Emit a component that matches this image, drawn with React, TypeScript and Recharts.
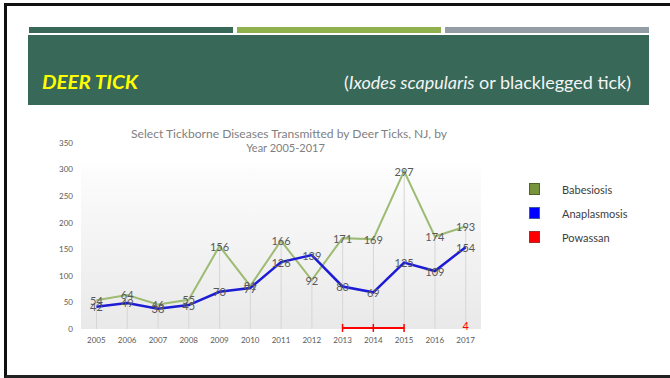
import { ComposedChart, Line, Bar, XAxis, YAxis, CartesianGrid, LabelList } from "recharts";

const years = ["2005", "2006", "2007", "2008", "2009", "2010", "2011", "2012", "2013", "2014", "2015", "2016", "2017"];
const babesiosis = [54, 64, 46, 55, 156, 81, 166, 92, 171, 169, 297, 174, 193];
const anaplasmosis = [42, 49, 38, 45, 70, 77, 126, 139, 80, 69, 125, 109, 154];
const powassan = [null, null, null, null, null, null, null, null, 2, 2, 2, null, 4];
const yTicks = [0, 50, 100, 150, 200, 250, 300, 350];

const legendItems = [
  { name: "Babesiosis", fill: "#77933c", stroke: "#4f6228" },
  { name: "Anaplasmosis", fill: "#0000ff", stroke: "#3a5a9a" },
  { name: "Powassan", fill: "#ff0000", stroke: "#a03030" },
];

const data = years.map((year, i) => ({
  year,
  babesiosis: babesiosis[i],
  anaplasmosis: anaplasmosis[i],
  powassan: powassan[i],
}));

const FONT = 'Lato, "Open Sans", sans-serif';

const hasNeighbour = (i: number) =>
  (i > 0 && powassan[i - 1] != null) || (i < powassan.length - 1 && powassan[i + 1] != null);

// centred value label sitting on the point
const pointLabel = (color: string) => (props: any) => {
  const { x, y, value } = props;
  if (value == null) return null;
  return (
    <text x={x} y={y} textAnchor="middle" dominantBaseline="central" fontSize={11} fontFamily={FONT} fill={color}>
      {value}
    </text>
  );
};

const powassanLabel = (props: any) => {
  const { x, y, value, index } = props;
  if (value == null || hasNeighbour(index)) return null;
  return (
    <text x={x} y={y - 1} textAnchor="middle" dominantBaseline="central" fontSize={11} fontFamily={FONT} fill="#ff0000">
      {value}
    </text>
  );
};

const powassanDot = (props: any) => {
  const { cx, cy, index } = props;
  if (cy == null || !hasNeighbour(index)) return <g key={`pd-${index}`} />;
  return <line key={`pd-${index}`} x1={cx} x2={cx} y1={cy - 4} y2={cy + 4} stroke="#ff0000" strokeWidth={1.5} />;
};

export default function App() {
  return (
    <div style={{ position: "absolute", left: 0, top: 0, width: 670, height: 378, background: "#fff", overflow: "hidden" }}>
      <div
        style={{
          position: "absolute",
          left: 4,
          top: 3,
          width: 700,
          height: 369,
          borderTop: "3px solid #111",
          borderLeft: "3px solid #111",
          borderBottom: "3px solid #222",
        }}
      />
      <div style={{ position: "absolute", left: 50, top: 120 }}>
        <ComposedChart width={440} height={235} data={data} margin={{ top: 23, right: 9, bottom: 6, left: 0 }}>
          <defs>
            <linearGradient id="plotBg" x1="0" y1="0" x2="0" y2="1">
              <stop offset="0.08" stopColor="#ffffff" stopOpacity={0} />
              <stop offset="0.15" stopColor="#fcfcfc" stopOpacity={1} />
              <stop offset="1" stopColor="#e9e9e9" stopOpacity={1} />
            </linearGradient>
          </defs>
          <CartesianGrid horizontal={false} vertical={false} fill="url(#plotBg)" />
          <XAxis
            dataKey="year"
            height={20}
            axisLine={false}
            tickLine={false}
            interval={0}
            tick={{ fontSize: 8, fill: "#595959", fontFamily: FONT }}
          />
          <YAxis
            width={31}
            domain={[0, 350]}
            ticks={yTicks}
            axisLine={false}
            tickLine={false}
            tick={{ fontSize: 8, fill: "#595959", fontFamily: FONT }}
          />
          <Bar dataKey="babesiosis" barSize={1} fill="#d6d6d6" isAnimationActive={false} />
          <Line
            dataKey="babesiosis"
            type="linear"
            stroke="#9dbb72"
            strokeWidth={2}
            dot={false}
            isAnimationActive={false}
          >
            <LabelList dataKey="babesiosis" content={pointLabel("#595959")} />
          </Line>
          <Line
            dataKey="anaplasmosis"
            type="linear"
            stroke="#1c1cd6"
            strokeWidth={2.5}
            dot={false}
            isAnimationActive={false}
          >
            <LabelList dataKey="anaplasmosis" content={pointLabel("#595959")} />
          </Line>
          <Line
            dataKey="powassan"
            type="linear"
            stroke="#ff0000"
            strokeWidth={2}
            dot={powassanDot}
            isAnimationActive={false}
          >
            <LabelList dataKey="powassan" content={powassanLabel} />
          </Line>
        </ComposedChart>
      </div>
      <svg width={670} height={378} style={{ position: "absolute", left: 0, top: 0, pointerEvents: "none" }}>
        <rect x={29} y={27} width={204} height={6} fill="#386857" />
        <rect x={237} y={27} width={204} height={6} fill="#8fb24f" />
        <rect x={445} y={27} width={204} height={6} fill="#949ca6" />
        <rect x={28} y={35} width={621} height={70} fill="#386857" />
        <text x={42} y={89} fontSize={18} fontWeight={700} fontStyle="italic" fontFamily={FONT} fill="#ffff00" textLength={96} lengthAdjust="spacingAndGlyphs">
          DEER TICK
        </text>
        <text x={344} y={89} fontSize={18} fontFamily={FONT} fill="#f4f4f4" textLength={287} lengthAdjust="spacingAndGlyphs">
          (<tspan fontStyle="italic">Ixodes scapularis</tspan> or blacklegged tick)
        </text>
        <text x={289} y={138} textAnchor="middle" fontSize={11} fontFamily={FONT} fill="#7f7f7f" textLength={316} lengthAdjust="spacingAndGlyphs">
          Select Tickborne Diseases Transmitted by Deer Ticks, NJ, by
        </text>
        <text x={285.5} y={152} textAnchor="middle" fontSize={11} fontFamily={FONT} fill="#7f7f7f">
          Year 2005-2017
        </text>
        {legendItems.map((item, i) => (
          <g key={item.name}>
            <rect x={529.5} y={183.5 + i * 24} width={10} height={11} fill={item.fill} stroke={item.stroke} strokeWidth={1} />
            <text x={562} y={189 + i * 24} dominantBaseline="central" fontSize={11} fontFamily={FONT} fill="#404040">
              {item.name}
            </text>
          </g>
        ))}
      </svg>
    </div>
  );
}
